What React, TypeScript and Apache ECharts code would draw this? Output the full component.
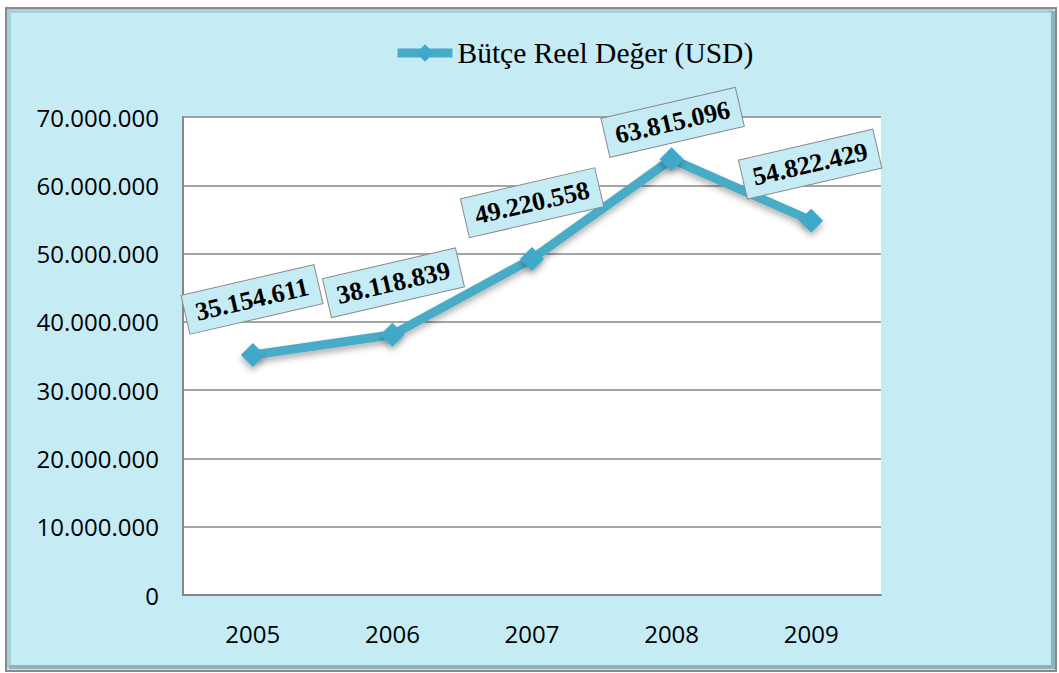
import React, { useEffect, useRef } from "react";
import * as echarts from "echarts";

const years = ["2005", "2006", "2007", "2008", "2009"];
const values = [35154611, 38118839, 49220558, 63815096, 54822429];
const labelOffsets = [
  [9, -42.6],
  [10, -38.7],
  [10, -43],
  [6.6, -24],
  [9, -43.6],
];
const seriesName = "Bütçe Reel Değer (USD)";

const fmt = (v: number) =>
  String(Math.round(v)).replace(/\B(?=(\d{3})+(?!\d))/g, ".");

export default function App() {
  const ref = useRef<HTMLDivElement>(null);
  useEffect(() => {
    const chart = echarts.init(ref.current!, undefined, { renderer: "svg" });
    chart.setOption({
      animation: false,
      backgroundColor: "#ffffff",
      graphic: [
        {
          type: "rect",
          z: -10,
          silent: true,
          shape: { x: 6, y: 8, width: 1050, height: 663 },
          style: { fill: "#C5EBF5", stroke: "#8a8a8a", lineWidth: 2 },
        },
        {
          type: "polyline",
          z: -9,
          silent: true,
          shape: { points: [[9, 668], [9, 11], [1053, 11]] },
          style: { stroke: "#a6cfdb", lineWidth: 4, fill: "none" },
        },
        {
          type: "polyline",
          z: -9,
          silent: true,
          shape: { points: [[9, 667], [1053, 667], [1053, 11]] },
          style: { stroke: "#8fb3bd", lineWidth: 4, fill: "none" },
        },
      ],
      legend: {
        top: 33,
        left: 388,
        itemWidth: 55,
        itemHeight: 22,
        itemGap: 2,
        lineStyle: { width: 9 },
        textStyle: {
          fontFamily: "Liberation Serif",
          fontSize: 29.5,
          color: "#000",
        },
        data: [seriesName],
      },
      grid: {
        left: 183,
        right: 178,
        top: 117,
        bottom: 78,
        show: true,
        backgroundColor: "#ffffff",
        borderWidth: 0,
      },
      xAxis: {
        type: "category",
        data: years,
        boundaryGap: true,
        axisLine: { lineStyle: { color: "#868686", width: 2 } },
        axisTick: { show: false },
        axisLabel: {
          fontFamily: "Open Sans",
          fontSize: 24,
          color: "#000",
          margin: 26,
        },
      },
      yAxis: {
        type: "value",
        min: 0,
        max: 70000000,
        interval: 10000000,
        axisLine: { show: true, lineStyle: { color: "#868686", width: 2 } },
        axisTick: { show: false },
        splitLine: { lineStyle: { color: "#868686", width: 1.5 } },
        axisLabel: {
          fontFamily: "Open Sans",
          fontSize: 24,
          color: "#000",
          margin: 24,
          formatter: (v: number) => fmt(v),
        },
      },
      series: [
        {
          name: seriesName,
          type: "line",
          data: values.map((v, i) => ({
            value: v,
            label: { offset: labelOffsets[i] },
          })),
          symbol: "diamond",
          symbolSize: 24,
          lineStyle: {
            color: "#49ACC7",
            width: 9,
            shadowColor: "rgba(0,0,0,0.3)",
            shadowBlur: 6,
            shadowOffsetY: 4,
          },
          itemStyle: {
            color: "#3FA9C9",
            shadowColor: "rgba(0,0,0,0.3)",
            shadowBlur: 6,
            shadowOffsetY: 4,
          },
          label: {
            show: true,
            position: "top",
            distance: 0,
            align: "center",
            verticalAlign: "middle",
            rotate: 13,
            fontFamily: "Liberation Serif",
            fontWeight: "bold",
            fontSize: 26,
            color: "#000",
            backgroundColor: "#C5EBF5",
            borderColor: "#8a8a8a",
            borderWidth: 1,
            padding: [7, 10, 6, 10],
            formatter: (p: any) => fmt(p.value),
          },
        },
      ],
    });
    return () => chart.dispose();
  }, []);
  return (
    <div
      ref={ref}
      style={{ position: "fixed", left: 0, top: 0, width: 1059, height: 673 }}
    />
  );
}
